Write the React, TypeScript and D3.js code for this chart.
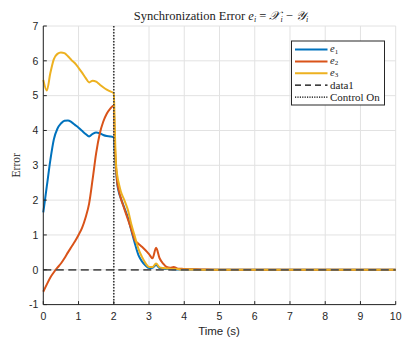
import React from "react";
import * as d3 from "d3";

// Sample times (s) shared by all three error signals
const time = [
  0, 0.1, 0.2, 0.3, 0.4, 0.5, 0.6, 0.7, 0.8, 0.9, 1.0, 1.1, 1.2, 1.3, 1.4, 1.5, 1.6, 1.7, 1.8, 1.9,
  2.0, 2.03, 2.06, 2.1, 2.15, 2.2, 2.3, 2.4, 2.5, 2.6, 2.7, 2.8, 2.9, 3.0, 3.1, 3.2, 3.3, 3.4, 3.5,
  3.6, 3.7, 3.8, 3.9, 4.0, 4.5, 5, 6, 7, 8, 9, 10,
];

const e1 = [
  1.65, 2.4, 3.15, 3.75, 4.05, 4.2, 4.28, 4.29, 4.24, 4.16, 4.08, 3.99, 3.9, 3.83, 3.9, 3.94, 3.92, 3.87, 3.84, 3.83,
  3.8, 3.3, 2.9, 2.45, 2.2, 2.05, 1.78, 1.5, 1.12, 0.75, 0.42, 0.24, 0.12, 0.05, 0.06, 0.14, 0.05, 0.03, 0.02,
  0.02, 0.01, 0.01, 0.01, 0.01, 0, 0, 0, 0, 0, 0, 0,
];

const e2 = [
  -0.63, -0.42, -0.22, -0.07, 0.06, 0.18, 0.33, 0.5, 0.66, 0.82, 1.0, 1.2, 1.5, 1.9, 2.6, 3.35, 3.9, 4.25, 4.48, 4.63,
  4.72, 3.6, 3.0, 2.5, 2.25, 2.05, 1.75, 1.45, 1.15, 0.85, 0.75, 0.66, 0.56, 0.45, 0.33, 0.63, 0.33, 0.18, 0.08,
  0.06, 0.08, 0.04, 0.03, 0.02, 0.01, 0, 0, 0, 0, 0, 0,
];

const e3 = [
  5.45, 5.15, 5.65, 6.05, 6.2, 6.24, 6.22, 6.13, 6.02, 5.93, 5.8, 5.66, 5.51, 5.38, 5.43, 5.4, 5.32, 5.24, 5.17, 5.12,
  5.07, 4.0, 3.1, 2.7, 2.45, 2.25, 2.0, 1.72, 1.3, 0.95, 0.6, 0.37, 0.19, 0.08, 0.08, 0.18, 0.07, 0.05, 0.04,
  0.03, 0.02, 0.02, 0.01, 0.01, 0, 0, 0, 0, 0, 0, 0,
];

const xTicks = [0, 1, 2, 3, 4, 5, 6, 7, 8, 9, 10];
const yTicks = [-1, 0, 1, 2, 3, 4, 5, 6, 7];
const controlOnTime = 2;
const referenceLevel = 0;

const series = [
  { name: "1", values: e1, color: "#0072BD" },
  { name: "2", values: e2, color: "#D95319" },
  { name: "3", values: e3, color: "#EDB120" },
];

const width = 412;
const height = 341;
const margin = { top: 26, right: 16.3, bottom: 36.4, left: 43.3 };

const x = d3.scaleLinear().domain([0, 10]).range([margin.left, width - margin.right]);
const y = d3.scaleLinear().domain([-1, 7]).range([height - margin.bottom, margin.top]);

const serif = "'Liberation Serif', 'DejaVu Serif', serif";
const sans = "'Liberation Sans', Arial, sans-serif";

const App = () => {
  const line = d3
    .line<number>()
    .x((_, i) => x(time[i]))
    .y((d) => y(d))
    .curve(d3.curveMonotoneX);

  const x0 = x.range()[0];
  const x1 = x.range()[1];
  const yBottom = y.range()[0];
  const yTop = y.range()[1];

  // legend placement
  const lg = { x: 291.5, y: 41, w: 93, h: 64 };
  const rowY = (i: number) => lg.y + 8.5 + i * 11.9;

  return (
    <div style={{ position: "absolute", left: 0, top: 0 }}>
      <svg width={width} height={height} style={{ display: "block", background: "#fff" }}>
        {/* grid */}
        <g stroke="#e2e2e2" strokeWidth={1}>
          {xTicks.map((t) => (
            <line key={"gx" + t} x1={x(t)} x2={x(t)} y1={yTop} y2={yBottom} />
          ))}
          {yTicks.map((t) => (
            <line key={"gy" + t} x1={x0} x2={x1} y1={y(t)} y2={y(t)} />
          ))}
        </g>

        {/* error signals */}
        {series.map((s) => (
          <path key={s.name} d={line(s.values) || ""} fill="none" stroke={s.color} strokeWidth={2} strokeLinejoin="round" />
        ))}

        {/* zero reference and control switch */}
        <line
          x1={x0}
          x2={x1}
          y1={y(referenceLevel)}
          y2={y(referenceLevel)}
          stroke="#555"
          strokeWidth={1.8}
          strokeDasharray="8,4.5"
        />
        <line
          x1={x(controlOnTime)}
          x2={x(controlOnTime)}
          y1={yTop}
          y2={yBottom}
          stroke="#3a3a3a"
          strokeWidth={1.6}
          strokeDasharray="1.6,1.4"
        />

        {/* axes */}
        <g stroke="#262626" strokeWidth={1}>
          <line x1={x0} x2={x0} y1={yTop} y2={yBottom} />
          <line x1={x0} x2={x1} y1={yBottom} y2={yBottom} />
          {xTicks.map((t) => (
            <line key={"tx" + t} x1={x(t)} x2={x(t)} y1={yBottom} y2={yBottom - 3.5} />
          ))}
          {yTicks.map((t) => (
            <line key={"ty" + t} x1={x0} x2={x0 + 3.5} y1={y(t)} y2={y(t)} />
          ))}
        </g>
        <g fill="#262626" fontFamily={sans} fontSize={10.5}>
          {xTicks.map((t) => (
            <text key={"lx" + t} x={x(t)} y={yBottom + 15} textAnchor="middle">
              {t}
            </text>
          ))}
          {yTicks.map((t) => (
            <text key={"ly" + t} x={x0 - 5} y={y(t) + 3.8} textAnchor="end">
              {t}
            </text>
          ))}
        </g>

        {/* labels */}
        <text x={219} y={335} textAnchor="middle" fontFamily={sans} fontSize={11.5} fill="#262626">
          Time (s)
        </text>
        <text
          transform={`translate(20,${(yTop + yBottom) / 2}) rotate(-90)`}
          textAnchor="middle"
          fontFamily={serif}
          fontSize={11.5}
          fill="#262626"
        >
          Error
        </text>
        <text x={221} y={19.5} textAnchor="middle" fontFamily={serif} fontSize={12.5} fill="#222">
          Synchronization Error{" "}
          <tspan fontStyle="italic">e</tspan>
          <tspan fontStyle="italic" fontSize={8} dy={2}>i</tspan>
          <tspan dy={-2}> = </tspan>
          <tspan fontStyle="italic">𝒳</tspan>
          <tspan fontStyle="italic" fontSize={8} dy={2}>i</tspan>
          <tspan dy={-2}> − </tspan>
          <tspan fontStyle="italic">𝒴</tspan>
          <tspan fontStyle="italic" fontSize={8} dy={2}>i</tspan>
        </text>

        {/* legend */}
        <rect x={lg.x} y={lg.y} width={lg.w} height={lg.h} fill="#fff" stroke="#262626" strokeWidth={1} />
        {series.map((s, i) => (
          <g key={"lg" + s.name}>
            <line x1={lg.x + 3.5} x2={lg.x + 36} y1={rowY(i)} y2={rowY(i)} stroke={s.color} strokeWidth={2} />
            <text x={lg.x + 38.5} y={rowY(i) + 2.5} fontFamily={serif} fontSize={10.5} fill="#222">
              <tspan fontStyle="italic">e</tspan>
              <tspan fontSize={7} dy={1.5}>{s.name}</tspan>
            </text>
          </g>
        ))}
        <line x1={lg.x + 3.5} x2={lg.x + 36} y1={rowY(3)} y2={rowY(3)} stroke="#000" strokeWidth={1.2} strokeDasharray="6,4" />
        <text x={lg.x + 38.5} y={rowY(3) + 3.8} fontFamily={serif} fontSize={11} fill="#222">
          data1
        </text>
        <line x1={lg.x + 3.5} x2={lg.x + 36} y1={rowY(4)} y2={rowY(4)} stroke="#000" strokeWidth={1.2} strokeDasharray="1.2,1.2" />
        <text x={lg.x + 38.5} y={rowY(4) + 3.8} fontFamily={serif} fontSize={11} fill="#222">
          Control On
        </text>
      </svg>
    </div>
  );
};

export default App;
